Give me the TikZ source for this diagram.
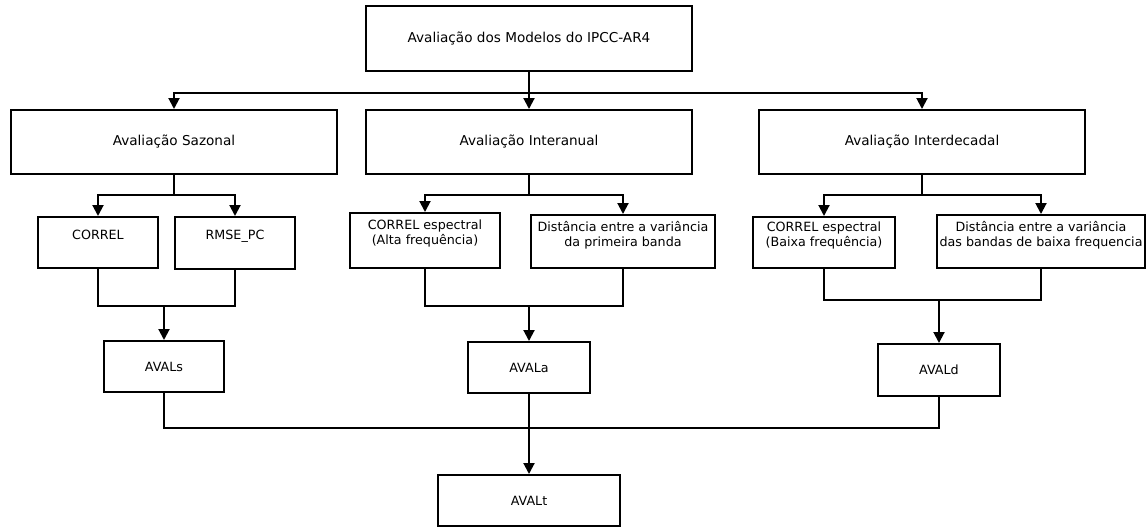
\documentclass[tikz,border=0pt]{standalone}
\usepackage{fontspec}
\setmainfont{DejaVu Sans}
\usetikzlibrary{calc}
\usetikzlibrary{arrows.meta}

\tikzset{
	caixa/.style={draw, black, line width=2pt, align=center, inner sep=2pt, font=\fontsize{13.6}{16}\selectfont},
	sub/.style={caixa, text depth=16pt, font=\fontsize{12.7}{15}\selectfont},
	aval/.style={caixa, font=\fontsize{12.7}{15}\selectfont},
	linha/.style={line width=2pt, black},
	seta/.style={linha, -{Triangle[width=11pt,length=11pt]}}
}

\begin{document}
\begin{tikzpicture}[x=1pt,y=-1pt]
			\useasboundingbox (0,0) rectangle (1148,528);

			\node[caixa, minimum width=326pt, minimum height=65pt] (topo) at (529,38.5) {Avaliação dos Modelos do IPCC-AR4};

			\node[caixa, minimum width=326pt, minimum height=64pt] (saz) at (174,142) {Avaliação Sazonal};
			\node[caixa, minimum width=326pt, minimum height=64pt] (inter) at (529,142) {Avaliação Interanual};
			\node[caixa, minimum width=326pt, minimum height=64pt] (dec) at (922,142) {Avaliação Interdecadal};

			\node[sub, minimum width=120pt, minimum height=51pt] (correl) at (98,242.5) {CORREL};
			\node[sub, minimum width=120pt, minimum height=52pt] (rmse) at (235,243) {RMSE\_PC};
			\node[sub, minimum width=150pt, minimum height=55pt] (ceA) at (425,240.5) {CORREL espectral\\(Alta frequência)};
			\node[sub, minimum width=184pt, minimum height=53pt] (distA) at (623,241.5) {Distância entre a variância\\da primeira banda};
			\node[sub, minimum width=142pt, minimum height=51pt] (ceB) at (824,242.5) {CORREL espectral\\(Baixa frequência)};
			\node[sub, minimum width=208pt, minimum height=53pt] (distB) at (1041,241.5) {Distância entre a variância\\das bandas de baixa frequencia};

			\node[aval, minimum width=120pt, minimum height=51pt] (avals) at (164,366.5) {AVALs};
			\node[aval, minimum width=122pt, minimum height=51pt] (avala) at (529,367.5) {AVALa};
			\node[aval, minimum width=122pt, minimum height=52pt] (avald) at (939,370) {AVALd};
			\node[aval, minimum width=182pt, minimum height=51pt] (avalt) at (529,500.5) {AVALt};

			% alturas das linhas
			\coordinate (b1) at (0,93);
			\coordinate (b2) at (0,195);
			\coordinate (m1) at (0,306);
			\coordinate (m2) at (0,300);
			\coordinate (m3) at (0,428);

			\draw[seta] (topo.south) -- (inter.north);
			\draw[seta] (topo.south |- b1) -| (saz.north);
			\draw[seta] (topo.south |- b1) -| (dec.north);

			\draw[linha] (saz.south) -- (saz.south |- b2);
			\draw[seta] (saz.south |- b2) -| (correl.north);
			\draw[seta] (saz.south |- b2) -| (rmse.north);
			\draw[linha] (inter.south) -- (inter.south |- b2);
			\draw[seta] (inter.south |- b2) -| (ceA.north);
			\draw[seta] (inter.south |- b2) -| (distA.north);
			\draw[linha] (dec.south) -- (dec.south |- b2);
			\draw[seta] (dec.south |- b2) -| (ceB.north);
			\draw[seta] (dec.south |- b2) -| (distB.north);

			\draw[linha] (correl.south) |- (rmse.south |- m1) -- (rmse.south);
			\draw[seta] (avals.north |- m1) -- (avals.north);
			\draw[linha] (ceA.south) |- (distA.south |- m1) -- (distA.south);
			\draw[seta] (avala.north |- m1) -- (avala.north);
			\draw[linha] (ceB.south) |- (distB.south |- m2) -- (distB.south);
			\draw[seta] (avald.north |- m2) -- (avald.north);

			\draw[linha] (avals.south) |- (avald.south |- m3) -- (avald.south);
			\draw[seta] (avala.south) -- (avalt.north);

\end{tikzpicture}
\end{document}
